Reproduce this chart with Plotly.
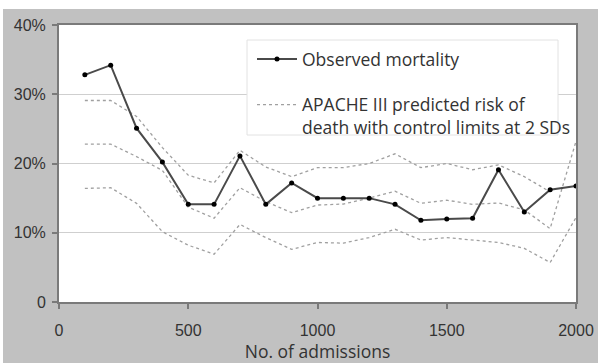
import plotly.graph_objects as go

admissions = [100, 200, 300, 400, 500, 600, 700, 800, 900, 1000,
              1100, 1200, 1300, 1400, 1500, 1600, 1700, 1800, 1900, 2000]
observed = [32.8, 34.2, 25.1, 20.2, 14.1, 14.1, 21.1, 14.1, 17.2, 15.0,
            15.0, 15.0, 14.1, 11.8, 12.0, 12.1, 19.1, 13.0, 16.2, 16.75]
upper_limit = [29.1, 29.1, 26.8, 22.3, 18.3, 17.2, 21.9, 19.5, 18.1, 19.4,
               19.4, 20.0, 21.4, 19.4, 20.0, 19.1, 19.8, 18.1, 15.9, None]
predicted = [22.8, 22.8, 21.0, 19.0, 13.7, 12.1, 16.5, 14.5, 12.9, 14.0,
             14.15, 15.0, 16.0, 14.25, 14.7, 14.1, 14.3, 13.3, 10.6, 23.2]
lower_limit = [16.4, 16.5, 14.25, 10.15, 8.2, 6.9, 11.2, 9.3, 7.6, 8.6,
               8.5, 9.3, 10.5, 8.95, 9.3, 8.95, 8.6, 7.75, 5.7, 12.2]

y_tickvals = [0, 10, 20, 30, 40]
y_ticktext = ["0", "10%", "20%", "30%", "40%"]
x_tickvals = [0, 500, 1000, 1500, 2000]

legend_obs = "Observed mortality"
legend_pred = "APACHE III predicted risk of<br>death with control limits at 2 SDs"
x_title = "No. of admissions"

dot_color = "#a0a0a0"
fig = go.Figure()
for i, (vals, name) in enumerate([(upper_limit, legend_pred), (predicted, legend_pred), (lower_limit, legend_pred)]):
    fig.add_trace(go.Scatter(
        x=admissions, y=vals, mode="lines", name=name,
        line=dict(color=dot_color, width=1.3, dash="dot"),
        legendgroup="pred", showlegend=(i == 1), legendrank=2,
    ))
fig.add_trace(go.Scatter(
    x=admissions, y=observed, mode="lines+markers", name=legend_obs,
    line=dict(color="#4a4a4a", width=2),
    marker=dict(color="#000000", size=5),
    legendgroup="obs", legendrank=1,
))

W, H = 598, 363
L, R, T, B = 59, 22, 25, 61
pw, ph = W - L - R, H - T - B

def px_x(p):
    return (p - L) / pw

def px_y(p):
    return (H - B - p) / ph

fig.update_layout(
    width=W, height=H,
    margin=dict(l=L, r=R, t=T, b=B, pad=0),
    paper_bgcolor="white",
    plot_bgcolor="rgba(0,0,0,0)",
    shapes=[
        dict(type="rect", xref="paper", yref="paper", layer="below",
             x0=px_x(3), x1=px_x(610), y0=px_y(380), y1=px_y(9),
             fillcolor="#c1c1c1", line=dict(width=0)),
        dict(type="rect", xref="paper", yref="paper", layer="below",
             x0=0, x1=1, y0=0, y1=1,
             fillcolor="white", line=dict(width=0)),
        dict(type="rect", xref="paper", yref="paper", layer="above",
             x0=px_x(247), x1=px_x(558), y0=px_y(135), y1=px_y(40),
             fillcolor="white", line=dict(color="#e2e2e2", width=1)),
    ],
    showlegend=True,
    legend=dict(
        x=px_x(252), y=px_y(41), xanchor="left", yanchor="top",
        bgcolor="rgba(0,0,0,0)", borderwidth=0,
        font=dict(family="Open Sans", size=17.5, color="#333333"),
        traceorder="grouped", tracegroupgap=20, itemwidth=40,
        valign="top",
    ),
    xaxis=dict(
        range=[0, 2000], tickvals=x_tickvals, automargin=False,
        showgrid=False, zeroline=False,
        showline=True, linecolor="#7a7a7a", linewidth=2, mirror=True,
        ticks="outside", ticklen=5, tickcolor="#7a7a7a", tickwidth=1.5,
        tickfont=dict(family="Liberation Sans", size=16, color="#333333"),
        ticklabelstandoff=8,
        title=dict(text=x_title, font=dict(family="Open Sans", size=17.5, color="#333333"), standoff=6),
    ),
    yaxis=dict(
        range=[0, 40], tickvals=y_tickvals, ticktext=y_ticktext, automargin=False,
        showgrid=True, gridcolor="#cfcfcf", gridwidth=1, zeroline=False,
        showline=True, linecolor="#7a7a7a", linewidth=2, mirror=True,
        ticks="outside", ticklen=5, tickcolor="#7a7a7a", tickwidth=1.5,
        tickfont=dict(family="Liberation Sans", size=16, color="#333333"),
        ticklabelstandoff=3,
    ),
)

fig.write_html("out.html")
